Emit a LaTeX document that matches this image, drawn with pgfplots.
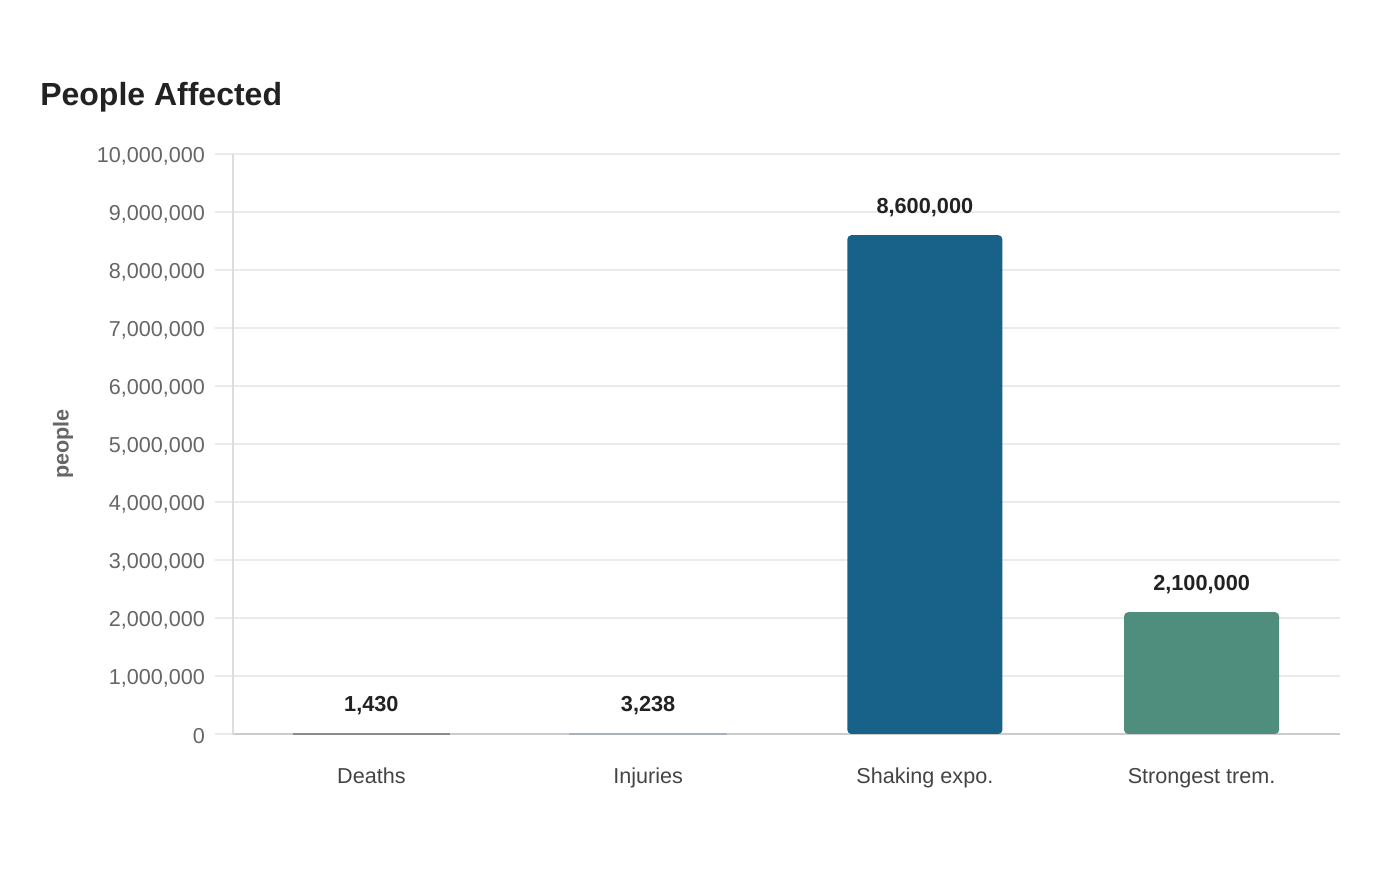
\documentclass[border=0pt]{standalone}
\usepackage{fontspec}
\setmainfont{Liberation Sans}
\usepackage{pgfplots}
\pgfplotsset{compat=1.18}

\definecolor{titlec}{HTML}{222222}
\definecolor{tickc}{HTML}{666666}
\definecolor{catc}{HTML}{444444}
\definecolor{gridc}{HTML}{EBEBEB}
\definecolor{axisc}{HTML}{CCCCCC}
\definecolor{yaxisc}{HTML}{DDDDDD}
\definecolor{deathc}{HTML}{8C8C8C}
\definecolor{injc}{HTML}{A8B2BE}
\definecolor{shakec}{HTML}{186289}
\definecolor{tremc}{HTML}{4F8E7D}

\begin{document}
\begin{tikzpicture}
% page frame: 1400 x 880 units of 0.75pt
\path[use as bounding box] (0pt,0pt) rectangle (1050pt,660pt);
\node[anchor=base west, inner sep=0, text=titlec,
      font=\bfseries\fontsize{24}{28}\selectfont] at (30pt,580.5pt) {People Affected};
\begin{axis}[
  at={(174.75pt,109.5pt)}, anchor=south west,
  scale only axis, width=830.25pt, height=435pt,
  xmin=-0.5, xmax=3.5, ymin=0, ymax=10000000,
  ytick distance=1000000,
  scaled y ticks=false,
  xtick={0,1,2,3},
  xticklabels={Deaths, Injuries, Shaking expo., Strongest trem.},
  axis x line*=bottom, axis y line*=left,
  axis line style={draw=axisc, line width=0.9pt},
  x axis line style={-}, y axis line style={-, draw=yaxisc},
  ymajorgrids, grid style={draw=gridc, line width=0.9pt},
  major tick length=13.5pt,
  tick align=outside,
  xtick style={draw=none},
  ytick style={draw=gridc, line width=0.9pt},
  yticklabel style={text=tickc, font=\fontsize{16.2}{19}\selectfont, xshift=-4pt, yshift=-1.5pt},
  xticklabel style={text=catc, font=\fontsize{16.2}{19}\selectfont, yshift=-8.5pt},
  /pgf/number format/.cd, fixed, precision=0, 1000 sep={,}, assume math mode=true,
  /pgfplots/.cd,
  ylabel={people},
  every axis y label/.style={at={(axis description cs:0,0.5)}, xshift=-127.5pt,
      rotate=90, anchor=center, text=tickc,
      font=\bfseries\fontsize{16.2}{19}\selectfont},
  ybar, bar width=116.25pt,
  nodes near coords,
  every node near coord/.append style={anchor=base, yshift=16.5pt, text=titlec,
      font=\bfseries\fontsize{16.3}{19}\selectfont},
  clip=false,
]
\addplot[bar shift=0pt, fill=deathc, draw=deathc, line width=1.8pt] coordinates {(0,1430)};
\addplot[bar shift=0pt, fill=injc, draw=injc, line width=1.8pt] coordinates {(1,3238)};
\addplot[bar shift=0pt, fill=shakec, draw=none, rounded corners=3pt] coordinates {(2,8600000)};
\addplot[bar shift=0pt, fill=tremc, draw=none, rounded corners=3pt] coordinates {(3,2100000)};
\end{axis}
\end{tikzpicture}
\end{document}
